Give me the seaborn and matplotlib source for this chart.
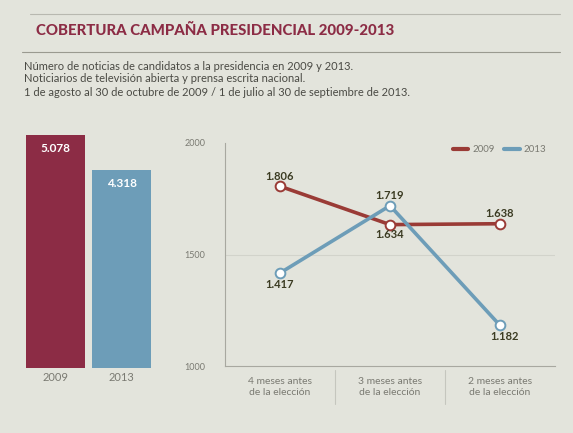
import numpy as np
import pandas as pd
import matplotlib
matplotlib.use("Agg")
import matplotlib.pyplot as plt
import seaborn as sns

# totales por año
years = ["2009", "2013"]
totals = [5078, 4318]
total_labels = ["5.078", "4.318"]

# noticias por periodo
periods = ["4 meses antes\nde la elección", "3 meses antes\nde la elección", "2 meses antes\nde la elección"]
news_2009 = [1806, 1634, 1638]
news_2013 = [1417, 1719, 1182]
labels_2009 = ["1.806", "1.634", "1.638"]
labels_2013 = ["1.417", "1.719", "1.182"]
y_ticks = [1000, 1500, 2000]

title = "COBERTURA CAMPAÑA PRESIDENCIAL 2009-2013"
subtitle = ["Número de noticias de candidatos a la presidencia en 2009 y 2013.",
            "Noticiarios de televisión abierta y prensa escrita nacional.",
            "1 de agosto al 30 de octubre de 2009 / 1 de julio al 30 de septiembre de 2013."]

paper = "#e3e4dc"
red = "#8c2c45"
red_line = "#9a3b36"
blue = "#6d9db8"
dark = "#3b3b22"
gray = "#7a7a72"

sns.set_theme(style="white")
plt.rcParams["font.family"] = ["Lato", "DejaVu Sans"]

fig = plt.figure(figsize=(5.73, 4.33), dpi=100)
fig.patch.set_facecolor(paper)

W, H = 573, 433
def fx(px):
    return px / W
def fy(py):
    return 1 - py / H

# cabecera
fig.text(fx(36), fy(31), title, color=red, fontsize=10.8, fontweight="black", va="center", ha="left")
fig.add_artist(plt.Line2D([fx(30), fx(560)], [fy(14), fy(14)], color="#b8b8b0", lw=0.8))
fig.add_artist(plt.Line2D([fx(22), fx(560)], [fy(52), fy(52)], color="#9a9a90", lw=0.8))
for i, line in enumerate(subtitle):
    fig.text(fx(24), fy(66 + i * 13), line, color="#4a4a44", fontsize=8.0, va="center", ha="left")

# barras de totales
ax1 = fig.add_axes([fx(22), fy(368), fx(133), fy(135) - fy(368)])
ax1.set_facecolor(paper)
bar_df = pd.DataFrame({"year": years, "total": totals})
sns.barplot(data=bar_df, x="year", y="total", hue="year", palette=[red, blue],
            width=0.88, legend=False, saturation=1, linewidth=0, ax=ax1)
ax1.set_ylim(0, max(totals))
ax1.set_xlim(-0.5, 1.5)
for i, (v, lab) in enumerate(zip(totals, total_labels)):
    ax1.text(i, v - 300, lab, color="white", fontsize=8.5, fontweight="bold", ha="center", va="center")
ax1.set_xlabel("")
ax1.set_ylabel("")
ax1.set_yticks([])
ax1.tick_params(axis="x", labelsize=8, colors=gray, length=0, pad=3)
for s in ax1.spines.values():
    s.set_visible(False)

# lineas por periodo
ax2 = fig.add_axes([fx(225), fy(366), fx(330), fy(143) - fy(366)])
ax2.set_facecolor(paper)
line_df = pd.DataFrame({
    "periodo": periods * 2,
    "noticias": news_2009 + news_2013,
    "año": ["2009"] * 3 + ["2013"] * 3,
})
sns.lineplot(data=line_df, x="periodo", y="noticias", hue="año", palette=[red_line, blue],
             lw=2.6, marker="o", markersize=7, markerfacecolor="white", markeredgewidth=1.4,
             sort=False, ax=ax2)
for line, col in zip(ax2.lines, [red_line, blue]):
    line.set_markeredgecolor(col)

ax2.set_ylim(1000, 2000)
ax2.set_xlim(-0.5, 2.5)
ax2.set_yticks(y_ticks)
ax2.set_yticklabels([str(t) for t in y_ticks])
ax2.axhline(1500, color="#d2d3cb", lw=0.8, zorder=0)
ax2.tick_params(axis="y", labelsize=6.5, colors=gray, length=0, pad=14)
ax2.tick_params(axis="x", labelsize=7.5, colors=gray, length=0, pad=8)
ax2.set_xlabel("")
ax2.set_ylabel("")
for s in ["top", "right"]:
    ax2.spines[s].set_visible(False)
for s in ["left", "bottom"]:
    ax2.spines[s].set_color("#a8a8a0")
    ax2.spines[s].set_linewidth(0.8)

# separadores de categorías
for xs in [0.5, 1.5]:
    ax2.plot([xs, xs], [-0.02, -0.17], transform=ax2.get_xaxis_transform(),
             color="#c5c6be", lw=0.8, clip_on=False)

# etiquetas de valores
offs_2009 = [45, -45, 45]
offs_2013 = [-50, 45, -50]
for i in range(3):
    ax2.text(i, news_2009[i] + offs_2009[i], labels_2009[i], color=dark, fontsize=8,
             fontweight="bold", ha="center", va="center")
    ax2.text(i + (0.04 if i == 2 else 0), news_2013[i] + offs_2013[i], labels_2013[i], color=dark,
             fontsize=8, fontweight="bold", ha="center", va="center")

leg = ax2.legend(loc="upper right", frameon=False, ncol=2, fontsize=7, handlelength=1.6,
                 columnspacing=1.0, handletextpad=0.4, bbox_to_anchor=(1.0, 1.03))
for t in leg.get_texts():
    t.set_color(gray)
for h in leg.legend_handles:
    h.set_marker("")
    h.set_linewidth(3)

fig.savefig("out.png", dpi=100, facecolor=paper)
